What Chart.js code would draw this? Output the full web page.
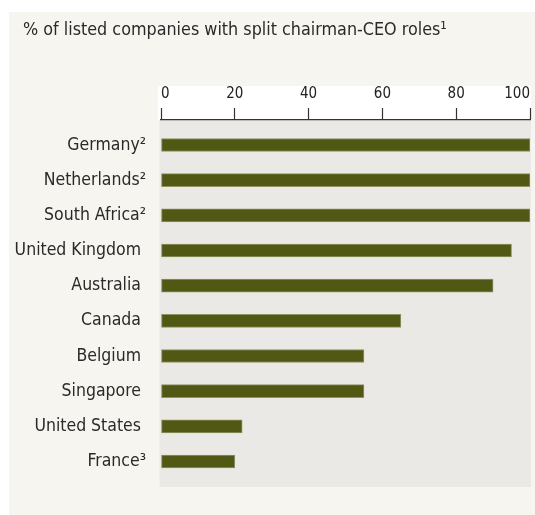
<!DOCTYPE html>
<html>
<head>
<meta charset="utf-8">
<script src="https://cdn.jsdelivr.net/npm/chart.js@4.4.1/dist/chart.umd.min.js"></script>
<style>
  html, body { margin: 0; padding: 0; background: #ffffff; }
  canvas { display: block; }
</style>
</head>
<body>
<canvas id="chart" width="535" height="515"></canvas>
<script>
// Data
const countries = ['Germany²', 'Netherlands²', 'South Africa²', 'United Kingdom', 'Australia',
                   'Canada', 'Belgium', 'Singapore', 'United States', 'France³'];
const splitShare = [100, 100, 100, 95, 90, 65, 55, 55, 22, 20];
const xTicks = [0, 20, 40, 60, 80, 100];
const titleText = '% of listed companies with split chairman-CEO roles¹';

const FONT = '"DejaVu Sans Condensed", "Liberation Sans Narrow", sans-serif';

// Panel backgrounds: cream card, white band behind the axis, grey plot area
const backdrop = {
  id: 'backdrop',
  beforeDraw(chart) {
    const ctx = chart.ctx;
    const a = chart.chartArea;
    ctx.save();
    ctx.fillStyle = '#f7f5ef';
    ctx.fillRect(9, 12, chart.width - 9, chart.height - 12);
    ctx.fillStyle = '#ffffff';
    ctx.fillRect(a.left - 3, 86, a.right - a.left + 4, a.top - 86);
    ctx.fillStyle = '#ebe9e5';
    ctx.fillRect(a.left - 1.5, a.top, a.right - a.left + 2.5, a.bottom - a.top);
    ctx.restore();
  },
  afterDraw(chart) {
    // heading sits over the cream card, indented from the axis labels
    const ctx = chart.ctx;
    ctx.save();
    ctx.fillStyle = '#2a2a2a';
    ctx.font = '17.8px ' + FONT;
    ctx.textBaseline = 'alphabetic';
    ctx.fillText(titleText, 23, 35);
    ctx.restore();
  }
};

new Chart(document.getElementById('chart'), {
  type: 'bar',
  data: {
    datasets: [{
      data: splitShare.map((v, i) => ({ x: v, y: i })),
      backgroundColor: '#505814',
      borderColor: '#8e9462',
      borderWidth: 1,
      borderSkipped: false,
      barThickness: 13
    }]
  },
  options: {
    indexAxis: 'y',
    responsive: false,
    animation: false,
    layout: { padding: { left: 0, right: 2, top: 86, bottom: 28 } },
    plugins: {
      legend: { display: false },
      tooltip: { enabled: false },
      title: { display: false }
    },
    scales: {
      x: {
        position: 'top',
        min: 0,
        max: 100,
        afterBuildTicks(scale) {
          scale.ticks = xTicks.map(v => ({ value: v }));
        },
        afterFit(scale) { scale.height = 34; },
        grid: {
          drawOnChartArea: false,
          drawTicks: true,
          tickLength: 12,
          tickColor: '#333333',
          tickWidth: 1.2
        },
        border: { display: true, color: '#333333', width: 1.3 },
        ticks: {
          align: 'inner',
          padding: 5,
          color: '#222222',
          font: { family: FONT, size: 15 }
        }
      },
      y: {
        type: 'linear',
        reverse: true,
        offset: false,
        min: -0.711,
        max: 9.725,
        afterBuildTicks(scale) {
          scale.ticks = countries.map((c, i) => ({ value: i }));
        },
        afterFit(scale) { scale.width = 161; },
        grid: { display: false },
        border: { display: false },
        ticks: {
          autoSkip: false,
          padding: 7,
          color: '#2a2a2a',
          font: { family: FONT, size: 17.5 },
          callback(v) {
            const name = countries[v];
            if (!name) return '';
            // names without a footnote get a little space where the superscript would hang
            return /[²³]$/.test(name) ? name : name + '\u2008';
          }
        }
      }
    }
  },
  plugins: [backdrop]
});
</script>
</body>
</html>
